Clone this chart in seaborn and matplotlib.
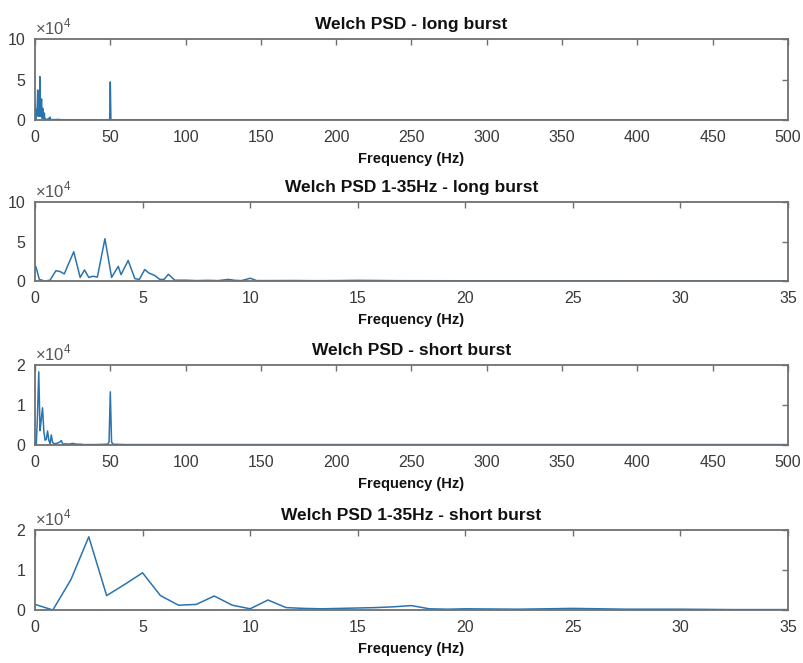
import numpy as np
import pandas as pd
import matplotlib
matplotlib.use("Agg")
import matplotlib.pyplot as plt
from matplotlib.ticker import FuncFormatter, FixedLocator
import seaborn as sns

# ---- long burst spectrum, low-frequency part (Hz, PSD) ----
long_low_freq = [0, 0.05, 0.2, 0.45, 0.7, 0.97, 1.16, 1.36, 1.8, 2.1, 2.3, 2.5,
                 2.7, 2.9, 3.25, 3.56, 3.87, 4.0, 4.33, 4.64, 4.85, 5.1, 5.3,
                 5.57, 5.8, 6.0, 6.2, 6.5, 7.0, 7.5, 8.0, 8.5, 9.0, 9.3, 9.6,
                 10.0, 10.3, 11.0, 12.0, 13.0, 14.0, 15.0, 17.0, 20.0, 25.0,
                 30.0, 35.0]
long_low_psd = [1.9e4, 1.75e4, 0.2e4, 0.0, 0.1e4, 1.3e4, 1.2e4, 0.9e4, 3.7e4,
                0.45e4, 1.4e4, 0.45e4, 0.6e4, 0.5e4, 5.35e4, 0.45e4, 1.85e4,
                0.8e4, 2.6e4, 0.3e4, 0.2e4, 1.45e4, 1.0e4, 0.7e4, 0.2e4, 0.2e4,
                0.85e4, 0.1e4, 0.1e4, 0.05e4, 0.08e4, 0.05e4, 0.2e4, 0.08e4,
                0.05e4, 0.35e4, 0.05e4, 0.05e4, 0.06e4, 0.04e4, 0.05e4, 0.08e4,
                0.04e4, 0.03e4, 0.03e4, 0.02e4, 0.02e4]

# ---- long burst spectrum above 35 Hz (mains line at 50 Hz) ----
long_high_freq = [40, 49.6, 50.0, 50.4, 60, 100, 200, 300, 400, 500]
long_high_psd = [0.02e4, 0.03e4, 4.7e4, 0.03e4, 0.02e4, 0.01e4, 0.01e4,
                 0.01e4, 0.01e4, 0.01e4]

# ---- short burst spectrum, low-frequency part (Hz, PSD) ----
short_low_freq = [0, 0.83, 1.67, 2.5, 3.33, 4.17, 5.0, 5.83, 6.67, 7.5, 8.33,
                  9.17, 10.0, 10.83, 11.67, 12.5, 13.33, 14.17, 15.0, 15.83,
                  16.67, 17.5, 18.33, 19.17, 20.0, 22.5, 25.0, 27.5, 30.0,
                  32.5, 35.0]
short_low_psd = [0.14e4, 0.0, 0.76e4, 1.83e4, 0.36e4, 0.64e4, 0.93e4, 0.36e4,
                 0.12e4, 0.14e4, 0.35e4, 0.12e4, 0.03e4, 0.25e4, 0.06e4,
                 0.04e4, 0.03e4, 0.04e4, 0.05e4, 0.06e4, 0.08e4, 0.11e4,
                 0.03e4, 0.02e4, 0.03e4, 0.02e4, 0.04e4, 0.02e4, 0.02e4,
                 0.01e4, 0.01e4]

# ---- short burst spectrum above 35 Hz ----
short_high_freq = [40, 48.33, 49.17, 50.0, 50.83, 51.67, 60, 100, 200, 300,
                   400, 500]
short_high_psd = [0.01e4, 0.02e4, 0.08e4, 1.33e4, 0.08e4, 0.02e4, 0.01e4,
                  0.01e4, 0.01e4, 0.01e4, 0.01e4, 0.01e4]

titles = ["Welch PSD - long burst", "Welch PSD 1-35Hz - long burst",
          "Welch PSD - short burst", "Welch PSD 1-35Hz - short burst"]
x_label = "Frequency (Hz)"
x_ticks_full = [0, 50, 100, 150, 200, 250, 300, 350, 400, 450, 500]
x_ticks_band = [0, 5, 10, 15, 20, 25, 30, 35]
y_ticks_long = [0, 5e4, 10e4]
y_ticks_short = [0, 1e4, 2e4]

line_color = "#2b73ad"
axis_color = "#707070"
text_color = "#3a3a3a"

sns.set_style("white")
plt.rcParams["font.family"] = ["Liberation Sans", "DejaVu Sans"]
plt.rcParams["mathtext.fontset"] = "custom"
plt.rcParams["mathtext.rm"] = "Liberation Sans"

fig = plt.figure(figsize=(8.04, 6.63), dpi=100)

# axes boxes in pixels: (left, top, right, bottom)
boxes = [(35, 39, 788, 120), (35, 202, 788, 281),
         (35, 365, 788, 445), (35, 530, 788, 610)]
W, H = 804, 663

panels = [
    (long_low_freq + long_high_freq, long_low_psd + long_high_psd,
     (0, 500), x_ticks_full, y_ticks_long),
    (long_low_freq, long_low_psd, (0, 35), x_ticks_band, y_ticks_long),
    (short_low_freq + short_high_freq, short_low_psd + short_high_psd,
     (0, 500), x_ticks_full, y_ticks_short),
    (short_low_freq, short_low_psd, (0, 35), x_ticks_band, y_ticks_short),
]

for (l, t, r, b), (freq, psd, xlim, xt, yt), title in zip(boxes, panels, titles):
    ax = fig.add_axes([l / W, 1 - b / H, (r - l) / W, (b - t) / H])
    df = pd.DataFrame({"f": freq, "p": psd})
    sns.lineplot(data=df, x="f", y="p", ax=ax, color=line_color, lw=1.1,
                 estimator=None, sort=False)
    ax.set_xlim(*xlim)
    ax.set_ylim(yt[0], yt[-1])
    ax.xaxis.set_major_locator(FixedLocator(xt))
    ax.yaxis.set_major_locator(FixedLocator(yt))
    ax.yaxis.set_major_formatter(FuncFormatter(lambda v, p: f"{v / 1e4:g}"))
    ax.tick_params(direction="in", top=True, right=True, length=4,
                   width=1.0, color=axis_color, labelsize=11.5,
                   labelcolor=text_color)
    ax.tick_params(axis="x", pad=7)
    ax.tick_params(axis="y", pad=7)
    for s in ax.spines.values():
        s.set_color(axis_color)
        s.set_linewidth(1.3)
    ax.set_title(title, fontsize=12.5, fontweight="bold", color="#111111", pad=7)
    ax.set_xlabel(x_label, fontsize=10.5, fontweight="bold", color="#111111",
                  labelpad=5)
    ax.set_ylabel("")
    ax.text(0.0, 1.02, r"$\times10^{4}$", transform=ax.transAxes,
            ha="left", va="bottom", fontsize=12, color="#555555")

fig.savefig("out.png", dpi=100, facecolor="white")
